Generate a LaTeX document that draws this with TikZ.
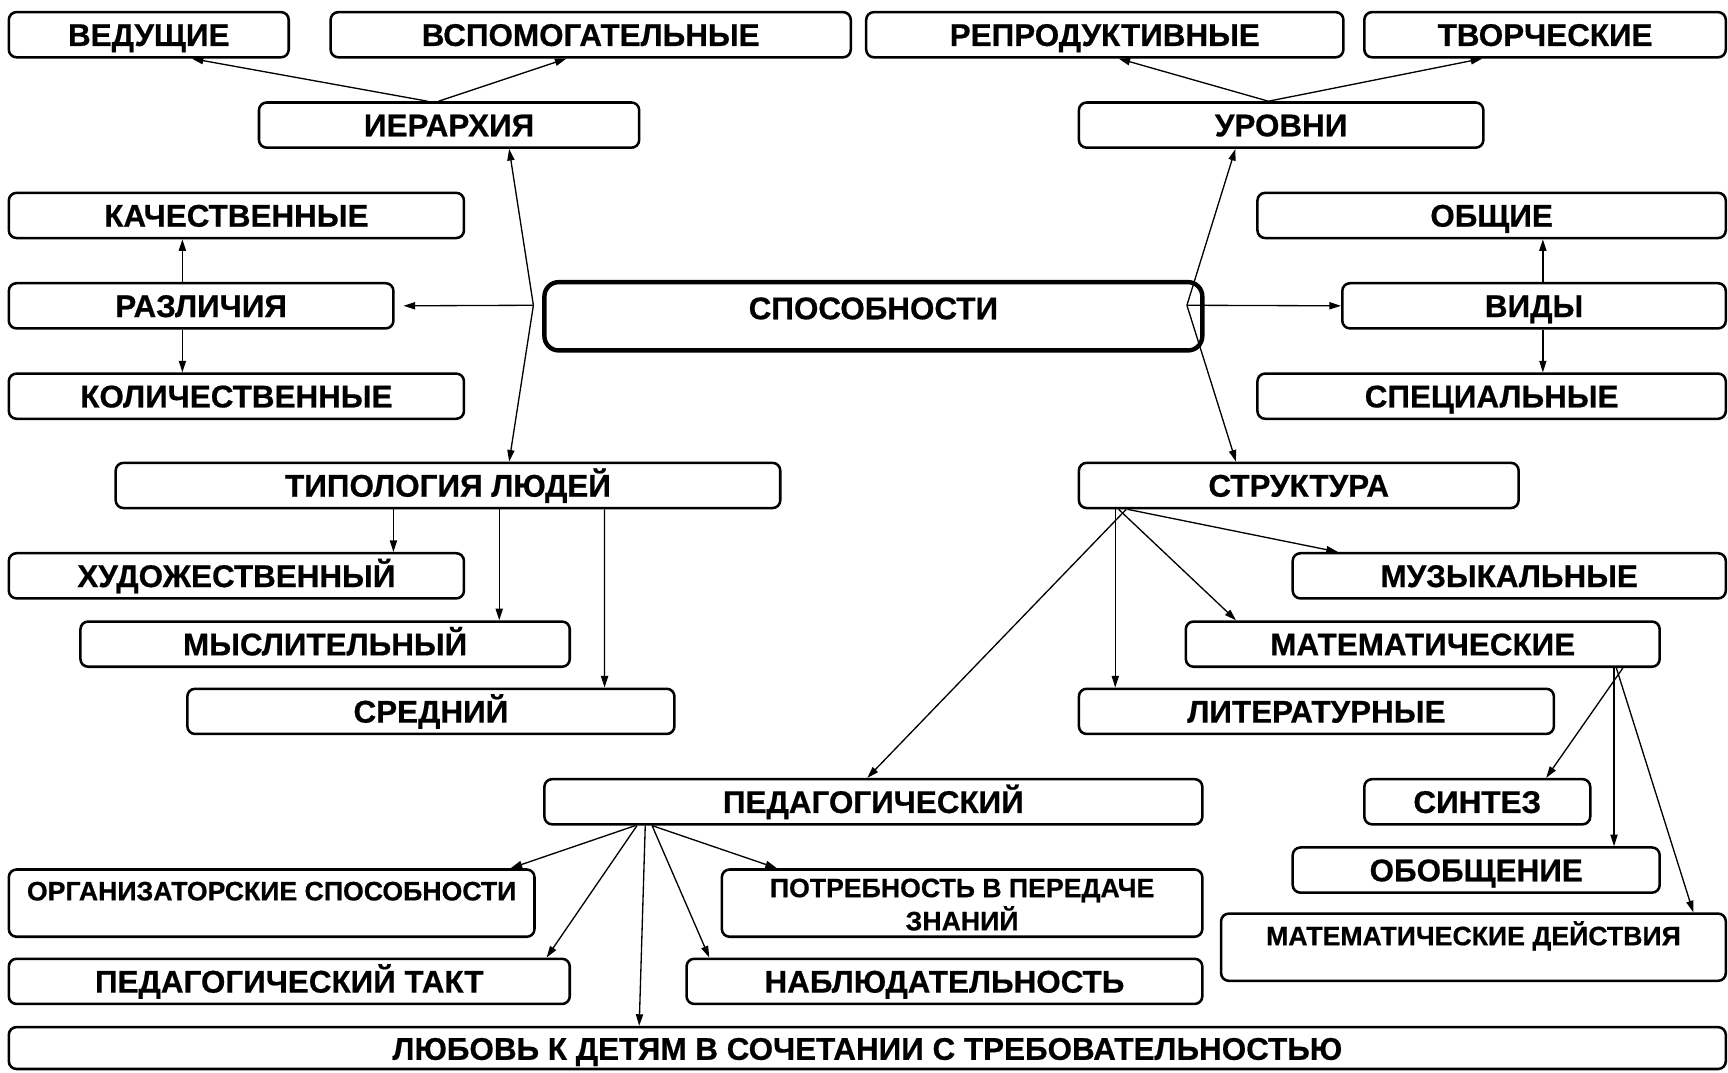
\documentclass[tikz,border=0pt]{standalone}
\usepackage{fontspec}
\setmainfont{Liberation Sans}[BoldFeatures={FakeBold=0.6}]
\usetikzlibrary{arrows.meta}
\begin{document}
\begin{tikzpicture}[x=1pt,y=-1pt,
  box/.style={draw, line width=2.3pt, rounded corners=7pt, inner sep=0pt,
    minimum height=41pt, text height=30.7pt, text depth=10.3pt,
    font=\bfseries\fontsize{28.5}{31}\selectfont},
  tallbox/.style={box, minimum height=61pt,
    font=\bfseries\fontsize{24.2}{27.3}\selectfont},
  mainbox/.style={box, line width=4pt, rounded corners=13pt,
    minimum height=62pt, text height=33.7pt, text depth=28.3pt},
  link/.style={line width=1.2pt, -{Triangle[length=10.5pt,width=6.5pt]}}
]
\useasboundingbox (0,0) rectangle (1568,973);

% top row
\node[box, minimum width=254pt] (ved)  at (135,31.5)    {ВЕДУЩИЕ};
\node[box, minimum width=472pt] (vsp)  at (536,31.5)    {ВСПОМОГАТЕЛЬНЫЕ};
\node[box, minimum width=433pt] (rep)  at (1002.5,31.5) {РЕПРОДУКТИВНЫЕ};
\node[box, minimum width=328pt] (tvo)  at (1402,31.5)   {ТВОРЧЕСКИЕ};

\node[box, minimum width=345pt] (ier)  at (407.5,113.5)  {ИЕРАРХИЯ};
\node[box, minimum width=367pt] (urv)  at (1162.5,113.5) {УРОВНИ};

\node[box, minimum width=413pt] (kach) at (214.5,195.5)  {КАЧЕСТВЕННЫЕ};
\node[box, minimum width=425pt] (obsh) at (1353.5,195.5) {ОБЩИЕ};

\node[box, minimum width=349pt] (razl) at (182.5,277.5)  {РАЗЛИЧИЯ};
\node[mainbox, minimum width=597pt] (spos) at (792.5,287) {СПОСОБНОСТИ};
\node[box, minimum width=348pt] (vidy) at (1392,277.5)   {ВИДЫ};

\node[box, minimum width=413pt] (kol)  at (214.5,359.5)  {КОЛИЧЕСТВЕННЫЕ};
\node[box, minimum width=425pt] (spec) at (1353.5,359.5) {СПЕЦИАЛЬНЫЕ};

\node[box, minimum width=603pt] (tip)  at (406.5,440.5)  {ТИПОЛОГИЯ ЛЮДЕЙ};
\node[box, minimum width=399pt] (str)  at (1178.5,440.5) {СТРУКТУРА};

\node[box, minimum width=413pt] (hud)  at (214.5,522.5)  {ХУДОЖЕСТВЕННЫЙ};
\node[box, minimum width=393pt] (muz)  at (1369.5,522.5) {МУЗЫКАЛЬНЫЕ};

\node[box, minimum width=444pt] (mysl) at (295,584.5)    {МЫСЛИТЕЛЬНЫЙ};
\node[box, minimum width=430pt] (mat)  at (1291,584.5)   {МАТЕМАТИЧЕСКИЕ};

\node[box, minimum width=442pt] (sred) at (391,645.5)    {СРЕДНИЙ};
\node[box, minimum width=431pt] (lit)  at (1194.5,645.5) {ЛИТЕРАТУРНЫЕ};

\node[box, minimum width=597pt] (ped)  at (792.5,727.5)  {ПЕДАГОГИЧЕСКИЙ};
\node[box, minimum width=205pt] (sint) at (1340.5,727.5) {СИНТЕЗ};

\node[box, minimum width=333pt] (obob) at (1339.5,789.5) {ОБОБЩЕНИЕ};

\node[tallbox, minimum width=477pt, text height=28pt, text depth=33pt]
  (org) at (246.5,819.5) {ОРГАНИЗАТОРСКИЕ СПОСОБНОСТИ};
\node[tallbox, minimum width=436pt, text height=55.2pt, text depth=5.8pt]
  (potr) at (873,819.5)
  {\begin{tabular}[b]{@{}c@{}}ПОТРЕБНОСТЬ В ПЕРЕДАЧЕ\\ЗНАНИЙ\end{tabular}};
\node[tallbox, minimum width=458pt, text height=28.7pt, text depth=32.3pt]
  (matd) at (1337,859.5) {МАТЕМАТИЧЕСКИЕ ДЕЙСТВИЯ};

\node[box, minimum width=509pt] (takt) at (262.5,890.5) {ПЕДАГОГИЧЕСКИЙ ТАКТ};
\node[box, minimum width=468pt] (nabl) at (857,890.5)   {НАБЛЮДАТЕЛЬНОСТЬ};

\node[box, minimum width=1558pt, minimum height=38pt, text height=29.7pt, text depth=8.3pt]
  (lub) at (787,951) {ЛЮБОВЬ К ДЕТЯМ В СОЧЕТАНИИ С ТРЕБОВАТЕЛЬНОСТЬЮ};

% branching points beside the central box
\coordinate (jl) at (484,277);
\coordinate (jr) at (1077,277);

% hierarchy and levels
\draw[link] ([xshift=-19.5pt]ier.north) -- ([xshift=39pt]ved.south);
\draw[link] ([xshift=-9.5pt]ier.north)  -- ([xshift=-22pt]vsp.south);
\draw[link] ([xshift=-11.5pt]urv.north) -- ([xshift=12.5pt]rep.south);
\draw[link] ([xshift=-11.5pt]urv.north) -- ([xshift=-57pt]tvo.south);

% left fan from the central box
\draw[link] (jl) -- ([xshift=54.5pt]ier.south);
\draw[link] (jl) -- ([xshift=8pt]razl.east);
\draw[link] (jl) -- ([xshift=55.5pt]tip.north);

% right fan from the central box
\draw[link] (jr) -- ([xshift=-41.5pt]urv.south);
\draw[link] (jr) -- (vidy.west);
\draw[link] (jr) -- ([xshift=-57pt]str.north);

% differences and kinds
\draw[link] ([xshift=-17pt]razl.north) -- ([xshift=-49pt]kach.south);
\draw[link] ([xshift=-17pt]razl.south) -- ([xshift=-49pt]kol.north);
\draw[link] ([xshift=8pt]vidy.north) -- ([xshift=46.5pt]obsh.south);
\draw[link] ([xshift=8pt]vidy.south) -- ([xshift=46.5pt]spec.north);

% typology of people
\draw[link] ([xshift=-49.5pt]tip.south) -- ([xshift=142.5pt]hud.north);
\draw[link] ([xshift=46.5pt]tip.south)  -- ([xshift=158pt]mysl.north);
\draw[link] ([xshift=142pt]tip.south)   -- ([xshift=157.6pt]sred.north);

% structure
\draw[link] ([xshift=-166.5pt]str.south) -- ([xshift=-182.5pt]lit.north);
\draw[link] ([xshift=-163.5pt]str.south) -- ([xshift=-169.4pt]mat.north);
\draw[link] ([xshift=-155.5pt]str.south) -- ([xshift=-155.5pt]muz.north);
\draw[link] ([xshift=-156.5pt]str.south) -- ([xshift=-5.5pt]ped.north);

% mathematical abilities
\draw[link] ([xshift=181.6pt]mat.south) -- ([xshift=62.5pt]sint.north);
\draw[link] ([xshift=173.6pt]mat.south) -- ([xshift=125.1pt]obob.north);
\draw[link] ([xshift=175.7pt]mat.south) -- ([xshift=199.5pt]matd.north);

% pedagogical abilities
\draw[link] ([xshift=-216pt]ped.south)   -- ([xshift=216.8pt]org.north);
\draw[link] ([xshift=-214.5pt]ped.south) -- ([xshift=233.5pt]takt.north);
\draw[link] ([xshift=-207pt]ped.south)   -- ([xshift=-207pt]lub.north);
\draw[link] ([xshift=-200.8pt]ped.south) -- ([xshift=-213.4pt]nabl.north);
\draw[link] ([xshift=-200.8pt]ped.south) -- ([xshift=-168pt]potr.north);
\end{tikzpicture}
\end{document}
